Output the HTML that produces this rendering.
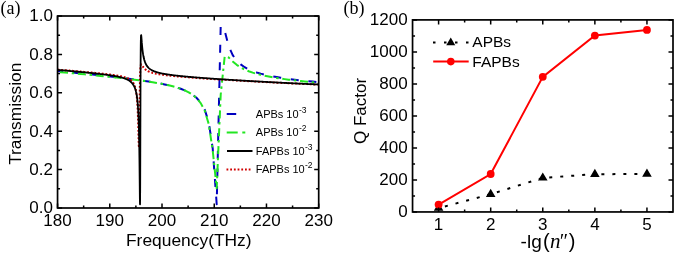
<!DOCTYPE html><html><head><meta charset="utf-8"><style>html,body{margin:0;padding:0;background:#fff;width:675px;height:254px;overflow:hidden}svg{display:block;will-change:transform}</style></head><body>
<svg width="675" height="254" viewBox="0 0 675 254">
<rect width="675" height="254" fill="#fff"/>
<defs><clipPath id="cl"><rect x="57.55" y="16" width="261.15" height="192"/></clipPath></defs>
<g clip-path="url(#cl)" fill="none" stroke-linejoin="round">
<polyline points="52.7,70.55 56.7,70.94 60.7,71.34 64.7,71.75 68.7,72.15 72.7,72.55 76.7,72.96 80.7,73.37 84.7,73.78 88.7,74.2 92.7,74.62 96.7,75.04 100.7,75.47 104.7,75.91 108.7,76.35 112.7,76.8 116.7,77.26 120.7,77.73 124.7,78.21 128.7,78.71 132.7,79.22 136.7,79.75 140.7,80.31 144.7,80.89 148.7,81.5 152.7,82.14 156.7,82.84 160.7,83.59 164.7,84.4 168.7,85.3 172.7,86.31 176.7,87.45 180.7,88.78 184.7,90.36 188.7,92.28 192.7,94.73 196.7,97.97 200.7,102.56 204.7,109.61 208.7,121.96 212.7,148.34 216.7,204.29 220.7,25.88 224.7,30.84 228.7,46.26 232.7,55.11 236.7,60.64 240.7,64.43 244.7,67.2 248.7,69.33 252.7,71.03 256.7,72.44 260.7,73.63 264.7,74.65 268.7,75.56 272.7,76.36 276.7,77.08 280.7,77.74 284.7,78.34 288.7,78.9 292.7,79.43 296.7,79.91 300.7,80.38 304.7,80.81 308.7,81.23 312.7,81.62 316.7,82 320.7,82.37" stroke="#0000c0" stroke-width="2" stroke-dasharray="8 9.7" stroke-dashoffset="-2.6"/>
<polyline points="52.7,71.42 56.7,71.77 60.7,72.13 64.7,72.5 68.7,72.86 72.7,73.23 76.7,73.6 80.7,73.97 84.7,74.35 88.7,74.73 92.7,75.12 96.7,75.51 100.7,75.9 104.7,76.31 108.7,76.72 112.7,77.14 116.7,77.57 120.7,78.01 124.7,78.47 128.7,78.94 132.7,79.42 136.7,79.93 140.7,80.46 144.7,81.01 148.7,81.6 152.7,82.23 156.7,82.9 160.7,83.63 164.7,84.43 168.7,85.32 172.7,86.31 176.7,87.46 180.7,88.79 184.7,90.39 188.7,92.36 192.7,94.89 196.7,98.28 200.7,103.12 204.7,110.66 208.7,123.84 212.7,150.31 216.7,188.3 220.7,94.62 224.7,56.43 228.7,57.48 232.7,61.45 236.7,64.83 240.7,67.47 244.7,69.55 248.7,71.24 252.7,72.64 256.7,73.83 260.7,74.85 264.7,75.75 268.7,76.56 272.7,77.28 276.7,77.94 280.7,78.55 284.7,79.12 288.7,79.65 292.7,80.14 296.7,80.61 300.7,81.06 304.7,81.49 308.7,81.9 312.7,82.29 316.7,82.67 320.7,83.03" stroke="#22e622" stroke-width="2" stroke-dasharray="8 3.7 2.5 3.7" stroke-dashoffset="-7.4"/>
<polyline points="57.55,69.56 58.07,69.6 58.59,69.65 59.12,69.69 59.64,69.74 60.16,69.79 60.68,69.83 61.21,69.88 61.73,69.92 62.25,69.97 62.77,70.01 63.3,70.06 63.82,70.1 64.34,70.15 64.86,70.19 65.38,70.24 65.91,70.28 66.43,70.33 66.95,70.37 67.47,70.42 68,70.46 68.52,70.51 69.04,70.55 69.56,70.6 70.09,70.65 70.61,70.69 71.13,70.74 71.65,70.78 72.17,70.83 72.7,70.87 73.22,70.92 73.74,70.96 74.26,71.01 74.79,71.06 75.31,71.1 75.83,71.15 76.35,71.19 76.88,71.24 77.4,71.29 77.92,71.33 78.44,71.38 78.96,71.43 79.49,71.47 80.01,71.52 80.53,71.57 81.05,71.61 81.58,71.66 82.1,71.71 82.62,71.75 83.14,71.8 83.66,71.85 84.19,71.89 84.71,71.94 85.23,71.99 85.75,72.04 86.28,72.08 86.8,72.13 87.32,72.18 87.84,72.23 88.37,72.28 88.89,72.33 89.41,72.37 89.93,72.42 90.45,72.47 90.98,72.52 91.5,72.57 92.02,72.62 92.54,72.67 93.07,72.72 93.59,72.77 94.11,72.82 94.63,72.87 95.16,72.92 95.68,72.97 96.2,73.02 96.72,73.08 97.24,73.13 97.77,73.18 98.29,73.23 98.81,73.28 99.33,73.34 99.86,73.39 100.38,73.45 100.9,73.5 101.42,73.55 101.95,73.61 102.47,73.67 102.99,73.72 103.51,73.78 104.03,73.83 104.56,73.89 105.08,73.95 105.6,74.01 106.12,74.07 106.65,74.13 107.17,74.19 107.69,74.25 108.21,74.31 108.74,74.38 109.26,74.44 109.78,74.51 110.3,74.57 110.82,74.64 111.35,74.71 111.87,74.78 112.39,74.85 112.91,74.92 113.44,74.99 113.96,75.07 114.48,75.14 115,75.22 115.53,75.3 116.05,75.38 116.57,75.47 117.09,75.55 117.61,75.64 118.14,75.73 118.66,75.83 119.18,75.92 119.7,76.02 120.23,76.13 120.75,76.23 121.27,76.34 121.79,76.46 122.32,76.58 122.84,76.71 123.36,76.84 123.88,76.98 124.4,77.13 124.93,77.29 125.45,77.45 125.97,77.63 126.49,77.82 127.02,78.02 127.54,78.24 128.06,78.47 128.58,78.73 128.79,78.83 128.82,78.85 128.84,78.86 128.87,78.88 128.9,78.89 128.92,78.9 128.95,78.92 128.97,78.93 129,78.95 129.03,78.96 129.05,78.98 129.08,78.99 129.11,79 129.13,79.02 129.16,79.03 129.18,79.05 129.21,79.06 129.24,79.08 129.26,79.09 129.29,79.11 129.31,79.12 129.34,79.14 129.37,79.15 129.39,79.17 129.42,79.19 129.44,79.2 129.47,79.22 129.5,79.23 129.52,79.25 129.55,79.26 129.58,79.28 129.6,79.3 129.63,79.31 129.65,79.33 129.68,79.34 129.71,79.36 129.73,79.38 129.76,79.39 129.78,79.41 129.81,79.43 129.84,79.44 129.86,79.46 129.89,79.48 129.91,79.5 129.94,79.51 129.97,79.53 129.99,79.55 130.02,79.56 130.05,79.58 130.07,79.6 130.1,79.62 130.12,79.63 130.15,79.65 130.18,79.67 130.2,79.69 130.23,79.71 130.25,79.73 130.28,79.74 130.31,79.76 130.33,79.78 130.36,79.8 130.38,79.82 130.41,79.84 130.44,79.86 130.46,79.88 130.49,79.89 130.52,79.91 130.54,79.93 130.57,79.95 130.59,79.97 130.62,79.99 130.65,80.01 130.67,80.03 130.7,80.05 130.72,80.07 130.75,80.09 130.78,80.11 130.8,80.13 130.83,80.16 130.85,80.18 130.88,80.2 130.91,80.22 130.93,80.24 130.96,80.26 130.99,80.28 131.01,80.3 131.04,80.33 131.06,80.35 131.09,80.37 131.12,80.39 131.14,80.41 131.17,80.44 131.19,80.46 131.22,80.48 131.25,80.51 131.27,80.53 131.3,80.55 131.32,80.58 131.35,80.6 131.38,80.62 131.4,80.65 131.43,80.67 131.46,80.69 131.48,80.72 131.51,80.74 131.53,80.77 131.56,80.79 131.59,80.82 131.61,80.84 131.64,80.87 131.66,80.89 131.69,80.92 131.72,80.95 131.74,80.97 131.77,81 131.79,81.02 131.82,81.05 131.85,81.08 131.87,81.1 131.9,81.13 131.93,81.16 131.95,81.19 131.98,81.21 132,81.24 132.03,81.27 132.06,81.3 132.08,81.33 132.11,81.36 132.13,81.38 132.16,81.41 132.19,81.44 132.21,81.47 132.24,81.5 132.27,81.53 132.29,81.56 132.32,81.59 132.34,81.62 132.37,81.65 132.4,81.69 132.42,81.72 132.45,81.75 132.47,81.78 132.5,81.81 132.53,81.85 132.55,81.88 132.58,81.91 132.6,81.94 132.63,81.98 132.66,82.01 132.68,82.05 132.71,82.08 132.74,82.11 132.76,82.15 132.79,82.18 132.81,82.22 132.84,82.26 132.87,82.29 132.89,82.33 132.92,82.36 132.94,82.4 132.97,82.44 133,82.48 133.02,82.51 133.05,82.55 133.07,82.59 133.1,82.63 133.13,82.67 133.15,82.71 133.18,82.75 133.21,82.79 133.23,82.83 133.26,82.87 133.28,82.91 133.31,82.95 133.34,82.99 133.36,83.04 133.39,83.08 133.41,83.12 133.44,83.17 133.47,83.21 133.49,83.26 133.52,83.3 133.54,83.35 133.57,83.39 133.6,83.44 133.62,83.48 133.65,83.53 133.68,83.58 133.7,83.63 133.73,83.67 133.75,83.72 133.78,83.77 133.81,83.82 133.83,83.87 133.86,83.92 133.88,83.98 133.91,84.03 133.94,84.08 133.96,84.13 133.99,84.19 134.01,84.24 134.04,84.29 134.07,84.35 134.09,84.41 134.12,84.46 134.15,84.52 134.17,84.58 134.2,84.63 134.22,84.69 134.25,84.75 134.28,84.81 134.3,84.87 134.33,84.93 134.35,85 134.38,85.06 134.41,85.12 134.43,85.19 134.46,85.25 134.48,85.32 134.51,85.38 134.54,85.45 134.56,85.52 134.59,85.59 134.62,85.66 134.64,85.73 134.67,85.8 134.69,85.87 134.72,85.94 134.75,86.02 134.77,86.09 134.8,86.17 134.82,86.24 134.85,86.32 134.88,86.4 134.9,86.48 134.93,86.56 134.95,86.64 134.98,86.72 135.01,86.81 135.03,86.89 135.06,86.98 135.09,87.06 135.11,87.15 135.14,87.24 135.16,87.33 135.19,87.42 135.22,87.51 135.24,87.61 135.27,87.7 135.29,87.8 135.32,87.9 135.35,88 135.37,88.1 135.4,88.2 135.42,88.3 135.45,88.41 135.48,88.51 135.5,88.62 135.53,88.73 135.56,88.84 135.58,88.95 135.61,89.07 135.63,89.18 135.66,89.3 135.69,89.42 135.71,89.54 135.74,89.67 135.76,89.79 135.79,89.92 135.82,90.05 135.84,90.18 135.87,90.31 135.89,90.45 135.92,90.59 135.95,90.72 135.97,90.87 136,91.01 136.03,91.16 136.05,91.31 136.08,91.46 136.1,91.61 136.13,91.77 136.16,91.93 136.18,92.09 136.21,92.26 136.23,92.43 136.26,92.6 136.29,92.77 136.31,92.95 136.34,93.13 136.37,93.31 136.39,93.5 136.42,93.69 136.44,93.88 136.47,94.08 136.5,94.28 136.52,94.49 136.55,94.7 136.57,94.91 136.6,95.13 136.63,95.35 136.65,95.58 136.68,95.81 136.7,96.04 136.73,96.28 136.76,96.53 136.78,96.78 136.81,97.03 136.84,97.29 136.86,97.56 136.89,97.83 136.91,98.11 136.94,98.39 136.97,98.68 136.99,98.98 137.02,99.28 137.04,99.59 137.07,99.91 137.1,100.23 137.12,100.56 137.15,100.9 137.17,101.25 137.2,101.6 137.23,101.96 137.25,102.33 137.28,102.71 137.31,103.1 137.33,103.5 137.36,103.91 137.38,104.32 137.41,104.75 137.44,105.19 137.46,105.64 137.49,106.1 137.51,106.57 137.54,107.06 137.57,107.55 137.59,108.06 137.62,108.58 137.64,109.12 137.67,109.67 137.7,110.23 137.72,110.81 137.75,111.4 137.78,112.01 137.8,112.63 137.83,113.27 137.85,113.92 137.88,114.6 137.91,115.29 137.93,115.99 137.96,116.72 137.98,117.46 138.01,118.22 138.04,119 138.06,119.8 138.09,120.62 138.11,121.46 138.14,122.31 138.17,123.19 138.19,124.08 138.22,124.99 138.25,125.92 138.27,126.87 138.3,127.83 138.32,128.81 138.35,129.81 138.38,130.81 138.4,131.83 138.43,132.86 138.45,133.89 138.48,134.92 138.51,135.96 138.53,136.99 138.56,138.01 138.58,139.02 138.61,140.01 138.64,140.98 138.66,141.92 138.69,142.82 138.72,143.67 138.74,144.46 138.77,145.19 138.79,145.85 138.82,146.43 138.85,146.91 138.87,147.28 138.9,147.54 138.92,147.67 138.95,147.67 138.98,147.52 139,147.22 139.03,146.76 139.05,146.12 139.08,145.32 139.11,144.35 139.13,143.2 139.16,141.88 139.19,140.4 139.21,138.76 139.24,136.97 139.26,135.04 139.29,132.99 139.32,130.83 139.34,128.58 139.37,126.24 139.39,123.85 139.42,121.42 139.45,118.96 139.47,116.49 139.5,114.03 139.52,111.59 139.55,109.18 139.58,106.82 139.6,104.51 139.63,102.26 139.66,100.08 139.68,97.98 139.71,95.96 139.73,94.02 139.76,92.16 139.79,90.39 139.81,88.7 139.84,87.1 139.86,85.59 139.89,84.15 139.92,82.8 139.94,81.52 139.97,80.31 140,79.18 140.02,78.12 140.05,77.12 140.07,76.18 140.1,75.31 140.13,74.49 140.15,73.72 140.18,73 140.2,72.33 140.23,71.71 140.26,71.13 140.28,70.58 140.31,70.08 140.33,69.61 140.36,69.17 140.39,68.76 140.41,68.38 140.44,68.03 140.47,67.71 140.49,67.41 140.52,67.13 140.54,66.87 140.57,66.63 140.6,66.41 140.62,66.2 140.65,66.02 140.67,65.85 140.7,65.69 140.73,65.54 140.75,65.41 140.78,65.29 140.8,65.18 140.83,65.08 140.86,64.99 140.88,64.91 140.91,64.83 140.94,64.77 140.96,64.71 140.99,64.66 141.01,64.61 141.04,64.57 141.07,64.54 141.09,64.51 141.12,64.49 141.14,64.47 141.17,64.45 141.2,64.44 141.22,64.44 141.25,64.43 141.27,64.43 141.3,64.44 141.33,64.44 141.35,64.45 141.38,64.46 141.41,64.48 141.43,64.49 141.46,64.51 141.48,64.53 141.51,64.55 141.54,64.57 141.56,64.6 141.59,64.63 141.61,64.65 141.64,64.68 141.67,64.71 141.69,64.74 141.72,64.78 141.74,64.81 141.77,64.84 141.8,64.88 141.82,64.91 141.85,64.95 141.88,64.98 141.9,65.02 141.93,65.06 141.95,65.1 141.98,65.14 142.01,65.18 142.03,65.21 142.06,65.25 142.08,65.29 142.11,65.33 142.14,65.37 142.16,65.42 142.19,65.46 142.21,65.5 142.24,65.54 142.27,65.58 142.29,65.62 142.32,65.66 142.35,65.7 142.37,65.74 142.4,65.79 142.42,65.83 142.45,65.87 142.48,65.91 142.5,65.95 142.53,65.99 142.55,66.03 142.58,66.07 142.61,66.11 142.63,66.15 142.66,66.2 142.68,66.24 142.71,66.28 142.74,66.32 142.76,66.36 142.79,66.4 142.82,66.44 142.84,66.48 142.87,66.52 142.89,66.55 142.92,66.59 142.95,66.63 142.97,66.67 143,66.71 143.02,66.75 143.05,66.79 143.08,66.82 143.1,66.86 143.13,66.9 143.15,66.94 143.18,66.97 143.21,67.01 143.23,67.05 143.26,67.09 143.29,67.12 143.31,67.16 143.34,67.19 143.36,67.23 143.39,67.27 143.42,67.3 143.44,67.34 143.47,67.37 143.49,67.41 143.52,67.44 143.55,67.47 143.57,67.51 143.6,67.54 143.63,67.58 143.65,67.61 143.68,67.64 143.7,67.68 143.73,67.71 143.76,67.74 143.78,67.77 143.81,67.81 143.83,67.84 143.86,67.87 143.89,67.9 143.91,67.93 143.94,67.97 143.96,68 143.99,68.03 144.02,68.06 144.04,68.09 144.07,68.12 144.1,68.15 144.12,68.18 144.15,68.21 144.17,68.24 144.2,68.27 144.23,68.3 144.25,68.33 144.28,68.36 144.3,68.39 144.33,68.41 144.36,68.44 144.38,68.47 144.41,68.5 144.43,68.53 144.46,68.55 144.49,68.58 144.51,68.61 144.54,68.64 144.57,68.66 144.59,68.69 144.62,68.72 144.64,68.74 144.67,68.77 144.7,68.8 144.72,68.82 144.75,68.85 144.77,68.87 144.8,68.9 144.83,68.92 144.85,68.95 144.88,68.97 144.9,69 144.93,69.02 144.96,69.05 144.98,69.07 145.01,69.1 145.04,69.12 145.06,69.15 145.09,69.17 145.11,69.19 145.14,69.22 145.17,69.24 145.19,69.26 145.22,69.29 145.24,69.31 145.27,69.33 145.3,69.36 145.32,69.38 145.35,69.4 145.37,69.42 145.4,69.45 145.43,69.47 145.45,69.49 145.48,69.51 145.51,69.53 145.53,69.56 145.56,69.58 145.58,69.6 145.61,69.62 145.64,69.64 145.66,69.66 145.69,69.68 145.71,69.7 145.74,69.72 145.77,69.74 145.79,69.77 145.82,69.79 145.84,69.81 145.87,69.83 145.9,69.85 145.92,69.87 145.95,69.89 145.98,69.91 146,69.92 146.03,69.94 146.05,69.96 146.08,69.98 146.11,70 146.13,70.02 146.16,70.04 146.18,70.06 146.21,70.08 146.24,70.1 146.26,70.11 146.29,70.13 146.31,70.15 146.34,70.17 146.37,70.19 146.39,70.21 146.42,70.22 146.45,70.24 146.47,70.26 146.5,70.28 146.52,70.29 146.55,70.31 146.58,70.33 146.6,70.35 146.63,70.36 146.65,70.38 146.68,70.4 146.71,70.41 146.73,70.43 146.76,70.45 146.78,70.47 146.81,70.48 146.84,70.5 146.86,70.51 146.89,70.53 146.92,70.55 146.94,70.56 146.97,70.58 146.99,70.6 147.02,70.61 147.05,70.63 147.07,70.64 147.1,70.66 147.12,70.67 147.15,70.69 147.18,70.71 147.2,70.72 147.23,70.74 147.26,70.75 147.28,70.77 147.31,70.78 147.33,70.8 147.36,70.81 147.39,70.83 147.41,70.84 147.44,70.86 147.46,70.87 147.49,70.89 147.52,70.9 147.54,70.92 147.57,70.93 147.59,70.94 147.62,70.96 147.65,70.97 147.67,70.99 147.7,71 147.73,71.02 147.75,71.03 147.78,71.04 147.8,71.06 147.83,71.07 147.86,71.08 147.88,71.1 147.91,71.11 147.93,71.13 147.96,71.14 147.99,71.15 148.01,71.17 148.04,71.18 148.06,71.19 148.09,71.21 148.12,71.22 148.14,71.23 148.17,71.24 148.2,71.26 148.22,71.27 148.25,71.28 148.27,71.3 148.3,71.31 148.33,71.32 148.35,71.33 148.38,71.35 148.4,71.36 148.43,71.37 148.46,71.38 148.48,71.4 148.51,71.41 148.53,71.42 148.56,71.43 148.59,71.45 148.61,71.46 148.64,71.47 148.67,71.48 148.69,71.49 148.72,71.51 148.74,71.52 148.77,71.53 148.8,71.54 148.82,71.55 148.85,71.56 148.87,71.58 148.9,71.59 148.93,71.6 148.95,71.61 148.98,71.62 149,71.63 149.03,71.65 149.06,71.66 149.08,71.67 149.11,71.68 149.14,71.69 149.16,71.7 149.19,71.71 149.21,71.72 149.24,71.73 149.27,71.75 149.29,71.76 149.32,71.77 149.34,71.78 149.37,71.79 149.4,71.8 149.42,71.81 149.45,71.82 149.47,71.83 149.5,71.84 149.53,71.85 149.55,71.86 149.58,71.87 149.61,71.88 149.63,71.89 149.66,71.9 149.68,71.92 150.21,72.11 150.73,72.3 151.25,72.47 151.77,72.64 152.3,72.79 152.82,72.94 153.34,73.07 153.86,73.2 154.38,73.33 154.91,73.45 155.43,73.56 155.95,73.67 156.47,73.78 157,73.88 157.52,73.97 158.04,74.07 158.56,74.16 159.09,74.25 159.61,74.33 160.13,74.41 160.65,74.5 161.17,74.57 161.7,74.65 162.22,74.72 162.74,74.8 163.26,74.87 163.79,74.94 164.31,75.01 164.83,75.07 165.35,75.14 165.88,75.2 166.4,75.26 166.92,75.33 167.44,75.39 167.96,75.45 168.49,75.5 169.01,75.56 169.53,75.62 170.05,75.68 170.58,75.73 171.1,75.79 171.62,75.84 172.14,75.89 172.66,75.94 173.19,76 173.71,76.05 174.23,76.1 174.75,76.15 175.28,76.2 175.8,76.25 176.32,76.3 176.84,76.34 177.37,76.39 177.89,76.44 178.41,76.49 178.93,76.53 179.45,76.58 179.98,76.62 180.5,76.67 181.02,76.71 181.54,76.76 182.07,76.8 182.59,76.85 183.11,76.89 183.63,76.93 184.16,76.98 184.68,77.02 185.2,77.06 185.72,77.1 186.24,77.15 186.77,77.19 187.29,77.23 187.81,77.27 188.33,77.31 188.86,77.35 189.38,77.39 189.9,77.43 190.42,77.47 190.95,77.51 191.47,77.55 191.99,77.59 192.51,77.63 193.03,77.67 193.56,77.71 194.08,77.75 194.6,77.79 195.12,77.82 195.65,77.86 196.17,77.9 196.69,77.94 197.21,77.98 197.74,78.01 198.26,78.05 198.78,78.09 199.3,78.13 199.82,78.16 200.35,78.2 200.87,78.24 201.39,78.27 201.91,78.31 202.44,78.34 202.96,78.38 203.48,78.42 204,78.45 204.53,78.49 205.05,78.52 205.57,78.56 206.09,78.59 206.61,78.63 207.14,78.67 207.66,78.7 208.18,78.74 208.7,78.77 209.23,78.8 209.75,78.84 210.27,78.87 210.79,78.91 211.32,78.94 211.84,78.98 212.36,79.01 212.88,79.04 213.4,79.08 213.93,79.11 214.45,79.15 214.97,79.18 215.49,79.21 216.02,79.25 216.54,79.28 217.06,79.31 217.58,79.35 218.11,79.38 218.63,79.41 219.15,79.44 219.67,79.48 220.19,79.51 220.72,79.54 221.24,79.58 221.76,79.61 222.28,79.64 222.81,79.67 223.33,79.7 223.85,79.74 224.37,79.77 224.89,79.8 225.42,79.83 225.94,79.86 226.46,79.9 226.98,79.93 227.51,79.96 228.03,79.99 228.55,80.02 229.07,80.05 229.6,80.09 230.12,80.12 230.64,80.15 231.16,80.18 231.68,80.21 232.21,80.24 232.73,80.27 233.25,80.3 233.77,80.33 234.3,80.36 234.82,80.39 235.34,80.43 235.86,80.46 236.39,80.49 236.91,80.52 237.43,80.55 237.95,80.58 238.47,80.61 239,80.64 239.52,80.67 240.04,80.7 240.56,80.73 241.09,80.76 241.61,80.79 242.13,80.82 242.65,80.85 243.18,80.88 243.7,80.91 244.22,80.94 244.74,80.96 245.26,80.99 245.79,81.02 246.31,81.05 246.83,81.08 247.35,81.11 247.88,81.14 248.4,81.17 248.92,81.2 249.44,81.23 249.97,81.26 250.49,81.28 251.01,81.31 251.53,81.34 252.05,81.37 252.58,81.4 253.1,81.43 253.62,81.46 254.14,81.48 254.67,81.51 255.19,81.54 255.71,81.57 256.23,81.6 256.76,81.63 257.28,81.65 257.8,81.68 258.32,81.71 258.84,81.74 259.37,81.77 259.89,81.79 260.41,81.82 260.93,81.85 261.46,81.88 261.98,81.9 262.5,81.93 263.02,81.96 263.55,81.99 264.07,82.01 264.59,82.04 265.11,82.07 265.63,82.1 266.16,82.12 266.68,82.15 267.2,82.18 267.72,82.2 268.25,82.23 268.77,82.26 269.29,82.29 269.81,82.31 270.34,82.34 270.86,82.37 271.38,82.39 271.9,82.42 272.42,82.45 272.95,82.47 273.47,82.5 273.99,82.53 274.51,82.55 275.04,82.58 275.56,82.6 276.08,82.63 276.6,82.66 277.12,82.68 277.65,82.71 278.17,82.74 278.69,82.76 279.21,82.79 279.74,82.81 280.26,82.84 280.78,82.86 281.3,82.89 281.83,82.92 282.35,82.94 282.87,82.97 283.39,82.99 283.91,83.02 284.44,83.04 284.96,83.07 285.48,83.09 286,83.12 286.53,83.15 287.05,83.17 287.57,83.2 288.09,83.22 288.62,83.25 289.14,83.27 289.66,83.3 290.18,83.32 290.7,83.35 291.23,83.37 291.75,83.4 292.27,83.42 292.79,83.45 293.32,83.47 293.84,83.49 294.36,83.52 294.88,83.54 295.41,83.57 295.93,83.59 296.45,83.62 296.97,83.64 297.49,83.67 298.02,83.69 298.54,83.71 299.06,83.74 299.58,83.76 300.11,83.79 300.63,83.81 301.15,83.83 301.67,83.86 302.2,83.88 302.72,83.91 303.24,83.93 303.76,83.95 304.28,83.98 304.81,84 305.33,84.02 305.85,84.05 306.37,84.07 306.9,84.1 307.42,84.12 307.94,84.14 308.46,84.17 308.99,84.19 309.51,84.21 310.03,84.24 310.55,84.26 311.07,84.28 311.6,84.31 312.12,84.33 312.64,84.35 313.16,84.37 313.69,84.4 314.21,84.42 314.73,84.44 315.25,84.47 315.78,84.49 316.3,84.51 316.82,84.53 317.34,84.56 317.86,84.58 318.39,84.6" stroke="#d00000" stroke-width="2" stroke-dasharray="1.8 1.9"/>
<polyline points="57.55,69.86 58.07,69.9 58.59,69.95 59.12,70 59.64,70.04 60.16,70.09 60.68,70.14 61.21,70.19 61.73,70.23 62.25,70.28 62.77,70.33 63.3,70.37 63.82,70.42 64.34,70.47 64.86,70.52 65.38,70.56 65.91,70.61 66.43,70.66 66.95,70.71 67.47,70.75 68,70.8 68.52,70.85 69.04,70.9 69.56,70.94 70.09,70.99 70.61,71.04 71.13,71.09 71.65,71.14 72.17,71.18 72.7,71.23 73.22,71.28 73.74,71.33 74.26,71.38 74.79,71.43 75.31,71.47 75.83,71.52 76.35,71.57 76.88,71.62 77.4,71.67 77.92,71.72 78.44,71.77 78.96,71.82 79.49,71.87 80.01,71.92 80.53,71.97 81.05,72.02 81.58,72.07 82.1,72.12 82.62,72.17 83.14,72.22 83.66,72.27 84.19,72.32 84.71,72.37 85.23,72.42 85.75,72.47 86.28,72.52 86.8,72.58 87.32,72.63 87.84,72.68 88.37,72.73 88.89,72.79 89.41,72.84 89.93,72.89 90.45,72.95 90.98,73 91.5,73.05 92.02,73.11 92.54,73.16 93.07,73.22 93.59,73.27 94.11,73.33 94.63,73.38 95.16,73.44 95.68,73.5 96.2,73.55 96.72,73.61 97.24,73.67 97.77,73.73 98.29,73.79 98.81,73.84 99.33,73.9 99.86,73.96 100.38,74.02 100.9,74.09 101.42,74.15 101.95,74.21 102.47,74.27 102.99,74.34 103.51,74.4 104.03,74.47 104.56,74.53 105.08,74.6 105.6,74.67 106.12,74.74 106.65,74.8 107.17,74.88 107.69,74.95 108.21,75.02 108.74,75.09 109.26,75.17 109.78,75.24 110.3,75.32 110.82,75.4 111.35,75.48 111.87,75.56 112.39,75.64 112.91,75.73 113.44,75.82 113.96,75.9 114.48,75.99 115,76.09 115.53,76.18 116.05,76.28 116.57,76.38 117.09,76.48 117.61,76.59 118.14,76.7 118.66,76.81 119.18,76.93 119.7,77.05 120.23,77.18 120.75,77.31 121.27,77.44 121.79,77.58 122.32,77.73 122.84,77.88 123.36,78.05 123.88,78.21 124.4,78.39 124.93,78.58 125.45,78.78 125.97,78.99 126.49,79.21 127.02,79.45 127.54,79.71 128.06,79.98 128.58,80.28 129.11,80.6 129.63,80.95 130.15,81.33 130.67,81.75 131.19,82.22 131.72,82.74 132.24,83.32 132.44,83.56 132.45,83.57 132.46,83.59 132.47,83.6 132.48,83.61 132.49,83.63 132.5,83.64 132.51,83.65 132.52,83.67 132.53,83.68 132.54,83.69 132.55,83.71 132.56,83.72 132.57,83.73 132.58,83.75 132.59,83.76 132.6,83.77 132.61,83.79 132.62,83.8 132.63,83.82 132.64,83.83 132.66,83.84 132.67,83.86 132.68,83.87 132.69,83.88 132.7,83.9 132.71,83.91 132.72,83.93 132.73,83.94 132.74,83.95 132.75,83.97 132.76,83.98 132.77,84 132.78,84.01 132.79,84.02 132.8,84.04 132.81,84.05 132.82,84.07 132.83,84.08 132.84,84.1 132.85,84.11 132.86,84.13 132.87,84.14 132.88,84.15 132.9,84.17 132.91,84.18 132.92,84.2 132.93,84.21 132.94,84.23 132.95,84.24 132.96,84.26 132.97,84.27 132.98,84.29 132.99,84.3 133,84.32 133.01,84.33 133.02,84.35 133.03,84.36 133.04,84.38 133.05,84.39 133.06,84.41 133.07,84.42 133.08,84.44 133.09,84.46 133.1,84.47 133.11,84.49 133.13,84.5 133.14,84.52 133.15,84.53 133.16,84.55 133.17,84.56 133.18,84.58 133.19,84.6 133.2,84.61 133.21,84.63 133.22,84.64 133.23,84.66 133.24,84.68 133.25,84.69 133.26,84.71 133.27,84.72 133.28,84.74 133.29,84.76 133.3,84.77 133.31,84.79 133.32,84.81 133.33,84.82 133.34,84.84 133.36,84.86 133.37,84.87 133.38,84.89 133.39,84.91 133.4,84.92 133.41,84.94 133.42,84.96 133.43,84.97 133.44,84.99 133.45,85.01 133.46,85.02 133.47,85.04 133.48,85.06 133.49,85.08 133.5,85.09 133.51,85.11 133.52,85.13 133.53,85.15 133.54,85.16 133.55,85.18 133.56,85.2 133.57,85.22 133.58,85.23 133.6,85.25 133.61,85.27 133.62,85.29 133.63,85.31 133.64,85.32 133.65,85.34 133.66,85.36 133.67,85.38 133.68,85.4 133.69,85.41 133.7,85.43 133.71,85.45 133.72,85.47 133.73,85.49 133.74,85.51 133.75,85.53 133.76,85.54 133.77,85.56 133.78,85.58 133.79,85.6 133.8,85.62 133.81,85.64 133.83,85.66 133.84,85.68 133.85,85.7 133.86,85.71 133.87,85.73 133.88,85.75 133.89,85.77 133.9,85.79 133.91,85.81 133.92,85.83 133.93,85.85 133.94,85.87 133.95,85.89 133.96,85.91 133.97,85.93 133.98,85.95 133.99,85.97 134,85.99 134.01,86.01 134.02,86.03 134.03,86.05 134.04,86.07 134.05,86.09 134.07,86.11 134.08,86.13 134.09,86.15 134.1,86.18 134.11,86.2 134.12,86.22 134.13,86.24 134.14,86.26 134.15,86.28 134.16,86.3 134.17,86.32 134.18,86.34 134.19,86.37 134.2,86.39 134.21,86.41 134.22,86.43 134.23,86.45 134.24,86.47 134.25,86.5 134.26,86.52 134.27,86.54 134.28,86.56 134.3,86.58 134.31,86.61 134.32,86.63 134.33,86.65 134.34,86.67 134.35,86.7 134.36,86.72 134.37,86.74 134.38,86.76 134.39,86.79 134.4,86.81 134.41,86.83 134.42,86.86 134.43,86.88 134.44,86.9 134.45,86.92 134.46,86.95 134.47,86.97 134.48,87 134.49,87.02 134.5,87.04 134.51,87.07 134.52,87.09 134.54,87.11 134.55,87.14 134.56,87.16 134.57,87.19 134.58,87.21 134.59,87.24 134.6,87.26 134.61,87.29 134.62,87.31 134.63,87.33 134.64,87.36 134.65,87.38 134.66,87.41 134.67,87.44 134.68,87.46 134.69,87.49 134.7,87.51 134.71,87.54 134.72,87.56 134.73,87.59 134.74,87.61 134.75,87.64 134.77,87.67 134.78,87.69 134.79,87.72 134.8,87.74 134.81,87.77 134.82,87.8 134.83,87.82 134.84,87.85 134.85,87.88 134.86,87.91 134.87,87.93 134.88,87.96 134.89,87.99 134.9,88.01 134.91,88.04 134.92,88.07 134.93,88.1 134.94,88.12 134.95,88.15 134.96,88.18 134.97,88.21 134.98,88.24 135,88.27 135.01,88.29 135.02,88.32 135.03,88.35 135.04,88.38 135.05,88.41 135.06,88.44 135.07,88.47 135.08,88.5 135.09,88.53 135.1,88.56 135.11,88.59 135.12,88.62 135.13,88.65 135.14,88.68 135.15,88.71 135.16,88.74 135.17,88.77 135.18,88.8 135.19,88.83 135.2,88.86 135.21,88.89 135.22,88.92 135.24,88.95 135.25,88.98 135.26,89.01 135.27,89.05 135.28,89.08 135.29,89.11 135.3,89.14 135.31,89.17 135.32,89.2 135.33,89.24 135.34,89.27 135.35,89.3 135.36,89.34 135.37,89.37 135.38,89.4 135.39,89.43 135.4,89.47 135.41,89.5 135.42,89.53 135.43,89.57 135.44,89.6 135.45,89.64 135.47,89.67 135.48,89.71 135.49,89.74 135.5,89.77 135.51,89.81 135.52,89.84 135.53,89.88 135.54,89.91 135.55,89.95 135.56,89.99 135.57,90.02 135.58,90.06 135.59,90.09 135.6,90.13 135.61,90.17 135.62,90.2 135.63,90.24 135.64,90.28 135.65,90.31 135.66,90.35 135.67,90.39 135.68,90.43 135.69,90.46 135.71,90.5 135.72,90.54 135.73,90.58 135.74,90.62 135.75,90.65 135.76,90.69 135.77,90.73 135.78,90.77 135.79,90.81 135.8,90.85 135.81,90.89 135.82,90.93 135.83,90.97 135.84,91.01 135.85,91.05 135.86,91.09 135.87,91.13 135.88,91.17 135.89,91.22 135.9,91.26 135.91,91.3 135.92,91.34 135.94,91.38 135.95,91.42 135.96,91.47 135.97,91.51 135.98,91.55 135.99,91.6 136,91.64 136.01,91.68 136.02,91.73 136.03,91.77 136.04,91.81 136.05,91.86 136.06,91.9 136.07,91.95 136.08,91.99 136.09,92.04 136.1,92.08 136.11,92.13 136.12,92.18 136.13,92.22 136.14,92.27 136.15,92.32 136.16,92.36 136.18,92.41 136.19,92.46 136.2,92.51 136.21,92.55 136.22,92.6 136.23,92.65 136.24,92.7 136.25,92.75 136.26,92.8 136.27,92.85 136.28,92.9 136.29,92.95 136.3,93 136.31,93.05 136.32,93.1 136.33,93.15 136.34,93.2 136.35,93.25 136.36,93.3 136.37,93.36 136.38,93.41 136.39,93.46 136.41,93.51 136.42,93.57 136.43,93.62 136.44,93.68 136.45,93.73 136.46,93.78 136.47,93.84 136.48,93.89 136.49,93.95 136.5,94.01 136.51,94.06 136.52,94.12 136.53,94.17 136.54,94.23 136.55,94.29 136.56,94.35 136.57,94.4 136.58,94.46 136.59,94.52 136.6,94.58 136.61,94.64 136.62,94.7 136.64,94.76 136.65,94.82 136.66,94.88 136.67,94.94 136.68,95 136.69,95.07 136.7,95.13 136.71,95.19 136.72,95.25 136.73,95.32 136.74,95.38 136.75,95.44 136.76,95.51 136.77,95.57 136.78,95.64 136.79,95.7 136.8,95.77 136.81,95.84 136.82,95.9 136.83,95.97 136.84,96.04 136.85,96.11 136.86,96.17 136.88,96.24 136.89,96.31 136.9,96.38 136.91,96.45 136.92,96.52 136.93,96.59 136.94,96.67 136.95,96.74 136.96,96.81 136.97,96.88 136.98,96.96 136.99,97.03 137,97.11 137.01,97.18 137.02,97.26 137.03,97.33 137.04,97.41 137.05,97.48 137.06,97.56 137.07,97.64 137.08,97.72 137.09,97.8 137.11,97.88 137.12,97.96 137.13,98.04 137.14,98.12 137.15,98.2 137.16,98.28 137.17,98.36 137.18,98.45 137.19,98.53 137.2,98.62 137.21,98.7 137.22,98.79 137.23,98.87 137.24,98.96 137.25,99.05 137.26,99.13 137.27,99.22 137.28,99.31 137.29,99.4 137.3,99.49 137.31,99.58 137.32,99.67 137.33,99.77 137.35,99.86 137.36,99.95 137.37,100.05 137.38,100.14 137.39,100.24 137.4,100.33 137.41,100.43 137.42,100.53 137.43,100.63 137.44,100.73 137.45,100.83 137.46,100.93 137.47,101.03 137.48,101.13 137.49,101.24 137.5,101.34 137.51,101.44 137.52,101.55 137.53,101.66 137.54,101.76 137.55,101.87 137.56,101.98 137.58,102.09 137.59,102.2 137.6,102.31 137.61,102.42 137.62,102.54 137.63,102.65 137.64,102.76 137.65,102.88 137.66,103 137.67,103.11 137.68,103.23 137.69,103.35 137.7,103.47 137.71,103.59 137.72,103.72 137.73,103.84 137.74,103.96 137.75,104.09 137.76,104.22 137.77,104.34 137.78,104.47 137.79,104.6 137.8,104.73 137.82,104.86 137.83,105 137.84,105.13 137.85,105.27 137.86,105.4 137.87,105.54 137.88,105.68 137.89,105.82 137.9,105.96 137.91,106.1 137.92,106.25 137.93,106.39 137.94,106.54 137.95,106.69 137.96,106.84 137.97,106.99 137.98,107.14 137.99,107.29 138,107.44 138.01,107.6 138.02,107.76 138.03,107.92 138.05,108.08 138.06,108.24 138.07,108.4 138.08,108.56 138.09,108.73 138.1,108.9 138.11,109.07 138.12,109.24 138.13,109.41 138.14,109.59 138.15,109.76 138.16,109.94 138.17,110.12 138.18,110.3 138.19,110.48 138.2,110.67 138.21,110.85 138.22,111.04 138.23,111.23 138.24,111.42 138.25,111.62 138.26,111.81 138.28,112.01 138.29,112.21 138.3,112.41 138.31,112.61 138.32,112.82 138.33,113.03 138.34,113.24 138.35,113.45 138.36,113.67 138.37,113.88 138.38,114.1 138.39,114.32 138.4,114.55 138.41,114.77 138.42,115 138.43,115.23 138.44,115.47 138.45,115.7 138.46,115.94 138.47,116.18 138.48,116.43 138.49,116.67 138.5,116.92 138.52,117.18 138.53,117.43 138.54,117.69 138.55,117.95 138.56,118.21 138.57,118.48 138.58,118.75 138.59,119.02 138.6,119.3 138.61,119.58 138.62,119.86 138.63,120.15 138.64,120.44 138.65,120.73 138.66,121.03 138.67,121.33 138.68,121.63 138.69,121.94 138.7,122.25 138.71,122.56 138.72,122.88 138.73,123.2 138.75,123.53 138.76,123.86 138.77,124.19 138.78,124.53 138.79,124.87 138.8,125.22 138.81,125.57 138.82,125.93 138.83,126.29 138.84,126.65 138.85,127.02 138.86,127.4 138.87,127.78 138.88,128.16 138.89,128.55 138.9,128.95 138.91,129.35 138.92,129.75 138.93,130.16 138.94,130.58 138.95,131 138.96,131.43 138.97,131.86 138.99,132.3 139,132.74 139.01,133.19 139.02,133.65 139.03,134.11 139.04,134.58 139.05,135.06 139.06,135.54 139.07,136.03 139.08,136.53 139.09,137.03 139.1,137.54 139.11,138.06 139.12,138.58 139.13,139.11 139.14,139.65 139.15,140.2 139.16,140.76 139.17,141.32 139.18,141.89 139.19,142.47 139.2,143.06 139.22,143.65 139.23,144.26 139.24,144.87 139.25,145.5 139.26,146.13 139.27,146.77 139.28,147.42 139.29,148.08 139.3,148.74 139.31,149.42 139.32,150.11 139.33,150.81 139.34,151.51 139.35,152.23 139.36,152.96 139.37,153.7 139.38,154.45 139.39,155.21 139.4,155.98 139.41,156.76 139.42,157.55 139.43,158.35 139.45,159.16 139.46,159.99 139.47,160.82 139.48,161.67 139.49,162.52 139.5,163.39 139.51,164.27 139.52,165.16 139.53,166.05 139.54,166.96 139.55,167.88 139.56,168.82 139.57,169.76 139.58,170.71 139.59,171.67 139.6,172.63 139.61,173.61 139.62,174.6 139.63,175.59 139.64,176.59 139.65,177.6 139.66,178.61 139.67,179.63 139.69,180.66 139.7,181.68 139.71,182.71 139.72,183.75 139.73,184.78 139.74,185.81 139.75,186.84 139.76,187.86 139.77,188.88 139.78,189.89 139.79,190.89 139.8,191.88 139.81,192.85 139.82,193.81 139.83,194.75 139.84,195.67 139.85,196.56 139.86,197.43 139.87,198.26 139.88,199.06 139.89,199.82 139.9,200.53 139.92,201.2 139.93,201.82 139.94,202.38 139.95,202.89 139.96,203.32 139.97,203.69 139.98,203.97 139.99,204.18 140,204.3 140.01,204.33 140.02,204.26 140.03,204.09 140.04,203.81 140.05,203.42 140.06,202.91 140.07,202.27 140.08,201.51 140.09,200.62 140.1,199.59 140.11,198.42 140.12,197.11 140.13,195.65 140.14,194.06 140.16,192.31 140.17,190.43 140.18,188.39 140.19,186.22 140.2,183.91 140.21,181.46 140.22,178.88 140.23,176.17 140.24,173.35 140.25,170.41 140.26,167.37 140.27,164.23 140.28,161 140.29,157.7 140.3,154.33 140.31,150.9 140.32,147.43 140.33,143.92 140.34,140.38 140.35,136.83 140.36,133.28 140.37,129.73 140.39,126.19 140.4,122.68 140.41,119.21 140.42,115.77 140.43,112.38 140.44,109.05 140.45,105.78 140.46,102.58 140.47,99.45 140.48,96.4 140.49,93.43 140.5,90.55 140.51,87.75 140.52,85.04 140.53,82.42 140.54,79.89 140.55,77.45 140.56,75.11 140.57,72.85 140.58,70.69 140.59,68.61 140.6,66.63 140.61,64.73 140.63,62.91 140.64,61.18 140.65,59.52 140.66,57.95 140.67,56.46 140.68,55.03 140.69,53.68 140.7,52.4 140.71,51.19 140.72,50.04 140.73,48.95 140.74,47.93 140.75,46.96 140.76,46.04 140.77,45.18 140.78,44.37 140.79,43.61 140.8,42.89 140.81,42.22 140.82,41.59 140.83,41.01 140.84,40.46 140.86,39.94 140.87,39.47 140.88,39.02 140.89,38.61 140.9,38.23 140.91,37.87 140.92,37.54 140.93,37.24 140.94,36.97 140.95,36.72 140.96,36.49 140.97,36.28 140.98,36.09 140.99,35.92 141,35.77 141.01,35.63 141.02,35.51 141.03,35.41 141.04,35.32 141.05,35.25 141.06,35.19 141.07,35.14 141.09,35.1 141.1,35.07 141.11,35.06 141.12,35.05 141.13,35.06 141.14,35.07 141.15,35.09 141.16,35.12 141.17,35.16 141.18,35.2 141.19,35.25 141.2,35.3 141.21,35.37 141.22,35.43 141.23,35.51 141.24,35.59 141.25,35.67 141.26,35.76 141.27,35.85 141.28,35.94 141.29,36.04 141.3,36.14 141.31,36.25 141.33,36.35 141.34,36.47 141.35,36.58 141.36,36.69 141.37,36.81 141.38,36.93 141.39,37.05 141.4,37.18 141.41,37.3 141.42,37.43 141.43,37.56 141.44,37.69 141.45,37.82 141.46,37.95 141.47,38.08 141.48,38.22 141.49,38.35 141.5,38.49 141.51,38.62 141.52,38.76 141.53,38.89 141.54,39.03 141.56,39.17 141.57,39.31 141.58,39.44 141.59,39.58 141.6,39.72 141.61,39.86 141.62,40 141.63,40.14 141.64,40.27 141.65,40.41 141.66,40.55 141.67,40.69 141.68,40.82 141.69,40.96 141.7,41.1 141.71,41.24 141.72,41.37 141.73,41.51 141.74,41.64 141.75,41.78 141.76,41.91 141.77,42.05 141.78,42.18 141.8,42.32 141.81,42.45 141.82,42.58 141.83,42.71 141.84,42.84 141.85,42.97 141.86,43.1 141.87,43.23 141.88,43.36 141.89,43.49 141.9,43.62 141.91,43.75 141.92,43.87 141.93,44 141.94,44.13 141.95,44.25 141.96,44.37 141.97,44.5 141.98,44.62 141.99,44.74 142,44.86 142.01,44.99 142.03,45.11 142.04,45.23 142.05,45.34 142.06,45.46 142.07,45.58 142.08,45.7 142.09,45.81 142.1,45.93 142.11,46.04 142.12,46.16 142.13,46.27 142.14,46.39 142.15,46.5 142.16,46.61 142.17,46.72 142.18,46.83 142.19,46.94 142.2,47.05 142.21,47.16 142.22,47.27 142.23,47.37 142.24,47.48 142.25,47.59 142.27,47.69 142.28,47.8 142.29,47.9 142.3,48 142.31,48.11 142.32,48.21 142.33,48.31 142.34,48.41 142.35,48.51 142.36,48.61 142.37,48.71 142.38,48.81 142.39,48.9 142.4,49 142.41,49.1 142.42,49.19 142.43,49.29 142.44,49.38 142.45,49.48 142.46,49.57 142.47,49.67 142.48,49.76 142.5,49.85 142.51,49.94 142.52,50.03 142.53,50.12 142.54,50.21 142.55,50.3 142.56,50.39 142.57,50.48 142.58,50.57 142.59,50.65 142.6,50.74 142.61,50.83 142.62,50.91 142.63,51 142.64,51.08 142.65,51.16 142.66,51.25 142.67,51.33 142.68,51.41 142.69,51.5 142.7,51.58 142.71,51.66 142.73,51.74 142.74,51.82 142.75,51.9 142.76,51.98 142.77,52.05 142.78,52.13 142.79,52.21 142.8,52.29 142.81,52.36 142.82,52.44 142.83,52.52 142.84,52.59 142.85,52.67 142.86,52.74 142.87,52.81 142.88,52.89 142.89,52.96 142.9,53.03 142.91,53.11 142.92,53.18 142.93,53.25 142.94,53.32 142.95,53.39 142.97,53.46 142.98,53.53 142.99,53.6 143,53.67 143.01,53.74 143.02,53.81 143.03,53.87 143.04,53.94 143.05,54.01 143.06,54.08 143.07,54.14 143.08,54.21 143.09,54.27 143.1,54.34 143.11,54.4 143.12,54.47 143.13,54.53 143.14,54.6 143.15,54.66 143.16,54.72 143.17,54.78 143.18,54.85 143.2,54.91 143.21,54.97 143.22,55.03 143.23,55.09 143.24,55.15 143.25,55.21 143.26,55.27 143.27,55.33 143.28,55.39 143.29,55.45 143.3,55.51 143.31,55.57 143.32,55.63 143.33,55.68 143.34,55.74 143.35,55.8 143.36,55.86 143.37,55.91 143.38,55.97 143.39,56.02 143.4,56.08 143.41,56.13 143.42,56.19 143.44,56.24 143.45,56.3 143.46,56.35 143.47,56.41 143.48,56.46 143.49,56.51 143.5,56.57 143.51,56.62 143.52,56.67 143.53,56.72 143.54,56.78 143.55,56.83 143.56,56.88 143.57,56.93 143.58,56.98 143.59,57.03 143.6,57.08 143.61,57.13 143.62,57.18 143.63,57.23 143.64,57.28 143.65,57.33 143.67,57.38 143.68,57.43 143.69,57.47 143.7,57.52 143.71,57.57 143.72,57.62 143.73,57.67 143.74,57.71 143.75,57.76 143.76,57.81 143.77,57.85 143.78,57.9 143.79,57.94 143.8,57.99 143.81,58.04 143.82,58.08 143.83,58.13 143.84,58.17 143.85,58.22 143.86,58.26 143.87,58.3 143.88,58.35 143.9,58.39 143.91,58.44 143.92,58.48 143.93,58.52 143.94,58.57 143.95,58.61 143.96,58.65 143.97,58.69 143.98,58.74 143.99,58.78 144,58.82 144.01,58.86 144.02,58.9 144.03,58.94 144.04,58.98 144.05,59.02 144.06,59.07 144.07,59.11 144.08,59.15 144.09,59.19 144.1,59.23 144.11,59.27 144.12,59.3 144.14,59.34 144.15,59.38 144.16,59.42 144.17,59.46 144.18,59.5 144.19,59.54 144.2,59.58 144.21,59.61 144.22,59.65 144.23,59.69 144.24,59.73 144.25,59.77 144.26,59.8 144.27,59.84 144.28,59.88 144.29,59.91 144.3,59.95 144.31,59.99 144.32,60.02 144.33,60.06 144.34,60.09 144.35,60.13 144.37,60.17 144.38,60.2 144.39,60.24 144.4,60.27 144.41,60.31 144.42,60.34 144.43,60.38 144.44,60.41 144.45,60.45 144.46,60.48 144.47,60.51 144.48,60.55 144.49,60.58 144.5,60.61 144.51,60.65 144.52,60.68 144.53,60.72 144.54,60.75 144.55,60.78 144.56,60.81 144.57,60.85 144.58,60.88 144.59,60.91 144.61,60.94 144.62,60.98 144.63,61.01 144.64,61.04 144.65,61.07 144.66,61.1 144.67,61.13 144.68,61.17 144.69,61.2 144.7,61.23 144.71,61.26 144.72,61.29 144.73,61.32 144.74,61.35 144.75,61.38 144.76,61.41 144.77,61.44 144.78,61.47 144.79,61.5 144.8,61.53 144.81,61.56 144.82,61.59 144.84,61.62 144.85,61.65 144.86,61.68 144.87,61.71 144.88,61.74 144.89,61.77 144.9,61.8 144.91,61.82 144.92,61.85 144.93,61.88 144.94,61.91 144.95,61.94 144.96,61.97 144.97,61.99 144.98,62.02 144.99,62.05 145,62.08 145.01,62.11 145.02,62.13 145.03,62.16 145.04,62.19 145.05,62.22 145.06,62.24 145.08,62.27 145.09,62.3 145.1,62.32 145.11,62.35 145.12,62.38 145.13,62.4 145.14,62.43 145.15,62.46 145.16,62.48 145.17,62.51 145.18,62.53 145.19,62.56 145.2,62.59 145.21,62.61 145.22,62.64 145.23,62.66 145.24,62.69 145.25,62.71 145.26,62.74 145.27,62.76 145.28,62.79 145.29,62.81 145.31,62.84 145.32,62.86 145.33,62.89 145.34,62.91 145.35,62.94 145.36,62.96 145.37,62.99 145.38,63.01 145.39,63.03 145.4,63.06 145.41,63.08 145.42,63.11 145.43,63.13 145.44,63.15 145.45,63.18 145.46,63.2 145.47,63.22 145.48,63.25 145.49,63.27 145.5,63.29 145.51,63.32 145.52,63.34 145.54,63.36 145.55,63.39 145.56,63.41 145.57,63.43 145.58,63.45 145.59,63.48 145.6,63.5 145.61,63.52 145.62,63.54 145.63,63.57 145.64,63.59 145.65,63.61 145.66,63.63 145.67,63.65 145.68,63.68 145.69,63.7 145.7,63.72 145.71,63.74 145.72,63.76 145.73,63.78 145.74,63.81 145.75,63.83 145.76,63.85 145.78,63.87 145.79,63.89 145.8,63.91 145.81,63.93 145.82,63.95 145.83,63.97 145.84,64 145.85,64.02 145.86,64.04 145.87,64.06 145.88,64.08 145.89,64.1 145.9,64.12 145.91,64.14 145.92,64.16 145.93,64.18 145.94,64.2 145.95,64.22 145.96,64.24 145.97,64.26 145.98,64.28 145.99,64.3 146.01,64.32 146.02,64.34 146.03,64.36 146.04,64.38 146.05,64.4 146.06,64.42 146.07,64.44 146.08,64.46 146.09,64.47 146.1,64.49 146.11,64.51 146.12,64.53 146.13,64.55 146.14,64.57 146.15,64.59 146.16,64.61 146.17,64.63 146.18,64.65 146.19,64.66 146.2,64.68 146.21,64.7 146.22,64.72 146.23,64.74 146.25,64.76 146.26,64.77 146.27,64.79 146.28,64.81 146.29,64.83 146.3,64.85 146.31,64.86 146.32,64.88 146.33,64.9 146.34,64.92 146.35,64.94 146.36,64.95 146.37,64.97 146.38,64.99 146.39,65.01 146.4,65.02 146.41,65.04 146.42,65.06 146.43,65.08 146.44,65.09 146.45,65.11 146.46,65.13 146.48,65.15 146.49,65.16 146.5,65.18 146.51,65.2 146.52,65.21 146.53,65.23 146.54,65.25 146.55,65.26 146.56,65.28 146.57,65.3 146.58,65.31 146.59,65.33 146.6,65.35 146.61,65.36 146.62,65.38 146.63,65.4 146.64,65.41 146.65,65.43 146.66,65.45 146.67,65.46 146.68,65.48 146.69,65.49 146.7,65.51 146.72,65.53 146.73,65.54 146.74,65.56 146.75,65.57 146.76,65.59 146.77,65.61 146.78,65.62 146.79,65.64 146.8,65.65 146.81,65.67 146.82,65.68 146.83,65.7 146.84,65.71 146.85,65.73 146.86,65.75 146.87,65.76 146.88,65.78 146.89,65.79 146.9,65.81 146.91,65.82 146.92,65.84 146.93,65.85 146.95,65.87 146.96,65.88 146.97,65.9 146.98,65.91 146.99,65.93 147,65.94 147.01,65.96 147.02,65.97 147.03,65.99 147.04,66 147.05,66.02 147.06,66.03 147.07,66.04 147.08,66.06 147.09,66.07 147.1,66.09 147.11,66.1 147.12,66.12 147.13,66.13 147.14,66.15 147.15,66.16 147.16,66.17 147.18,66.19 147.19,66.2 147.2,66.22 147.21,66.23 147.22,66.24 147.23,66.26 147.24,66.27 147.25,66.29 147.26,66.3 147.27,66.31 147.28,66.33 147.29,66.34 147.3,66.36 147.31,66.37 147.32,66.38 147.33,66.4 147.34,66.41 147.35,66.42 147.36,66.44 147.37,66.45 147.38,66.46 147.39,66.48 147.4,66.49 147.42,66.5 147.43,66.52 147.44,66.53 147.45,66.54 147.46,66.56 147.47,66.57 147.48,66.58 147.49,66.6 147.5,66.61 147.51,66.62 147.52,66.63 147.53,66.65 147.54,66.66 147.55,66.67 147.56,66.69 147.57,66.7 147.58,66.71 147.59,66.72 147.6,66.74 147.61,66.75 147.62,66.76 147.63,66.78 147.65,66.79 147.66,66.8 147.67,66.81 147.68,66.83 147.69,66.84 147.7,66.85 147.71,66.86 147.72,66.88 147.73,66.89 147.74,66.9 147.75,66.91 147.76,66.92 147.77,66.94 147.78,66.95 147.79,66.96 147.8,66.97 147.81,66.99 147.82,67 147.83,67.01 147.84,67.02 147.85,67.03 147.86,67.05 147.87,67.06 147.89,67.07 147.9,67.08 147.91,67.09 147.92,67.1 147.93,67.12 147.94,67.13 147.95,67.14 147.96,67.15 147.97,67.16 147.98,67.17 147.99,67.19 148,67.2 148.01,67.21 148.02,67.22 148.03,67.23 148.04,67.24 148.05,67.26 148.06,67.27 148.07,67.28 148.08,67.29 148.09,67.3 148.1,67.31 148.63,67.85 149.15,68.32 149.67,68.75 150.19,69.14 150.72,69.5 151.24,69.82 151.76,70.12 152.28,70.4 152.81,70.66 153.33,70.9 153.85,71.13 154.37,71.34 154.89,71.54 155.42,71.72 155.94,71.9 156.46,72.07 156.98,72.23 157.51,72.38 158.03,72.53 158.55,72.67 159.07,72.8 159.6,72.93 160.12,73.06 160.64,73.17 161.16,73.29 161.68,73.4 162.21,73.51 162.73,73.61 163.25,73.71 163.77,73.81 164.3,73.9 164.82,74 165.34,74.09 165.86,74.17 166.39,74.26 166.91,74.34 167.43,74.42 167.95,74.5 168.47,74.58 169,74.66 169.52,74.73 170.04,74.8 170.56,74.88 171.09,74.95 171.61,75.01 172.13,75.08 172.65,75.15 173.18,75.21 173.7,75.28 174.22,75.34 174.74,75.41 175.26,75.47 175.79,75.53 176.31,75.59 176.83,75.65 177.35,75.7 177.88,75.76 178.4,75.82 178.92,75.88 179.44,75.93 179.97,75.99 180.49,76.04 181.01,76.09 181.53,76.15 182.05,76.2 182.58,76.25 183.1,76.3 183.62,76.35 184.14,76.4 184.67,76.45 185.19,76.5 185.71,76.55 186.23,76.6 186.75,76.65 187.28,76.7 187.8,76.74 188.32,76.79 188.84,76.84 189.37,76.88 189.89,76.93 190.41,76.98 190.93,77.02 191.46,77.07 191.98,77.11 192.5,77.16 193.02,77.2 193.54,77.24 194.07,77.29 194.59,77.33 195.11,77.37 195.63,77.42 196.16,77.46 196.68,77.5 197.2,77.54 197.72,77.58 198.25,77.63 198.77,77.67 199.29,77.71 199.81,77.75 200.33,77.79 200.86,77.83 201.38,77.87 201.9,77.91 202.42,77.95 202.95,77.99 203.47,78.03 203.99,78.07 204.51,78.11 205.04,78.15 205.56,78.18 206.08,78.22 206.6,78.26 207.12,78.3 207.65,78.34 208.17,78.38 208.69,78.41 209.21,78.45 209.74,78.49 210.26,78.53 210.78,78.56 211.3,78.6 211.83,78.64 212.35,78.67 212.87,78.71 213.39,78.75 213.91,78.78 214.44,78.82 214.96,78.85 215.48,78.89 216,78.93 216.53,78.96 217.05,79 217.57,79.03 218.09,79.07 218.62,79.1 219.14,79.14 219.66,79.17 220.18,79.21 220.7,79.24 221.23,79.28 221.75,79.31 222.27,79.35 222.79,79.38 223.32,79.41 223.84,79.45 224.36,79.48 224.88,79.52 225.41,79.55 225.93,79.58 226.45,79.62 226.97,79.65 227.49,79.68 228.02,79.72 228.54,79.75 229.06,79.78 229.58,79.82 230.11,79.85 230.63,79.88 231.15,79.91 231.67,79.95 232.2,79.98 232.72,80.01 233.24,80.05 233.76,80.08 234.28,80.11 234.81,80.14 235.33,80.17 235.85,80.21 236.37,80.24 236.9,80.27 237.42,80.3 237.94,80.33 238.46,80.36 238.98,80.4 239.51,80.43 240.03,80.46 240.55,80.49 241.07,80.52 241.6,80.55 242.12,80.58 242.64,80.61 243.16,80.64 243.69,80.68 244.21,80.71 244.73,80.74 245.25,80.77 245.77,80.8 246.3,80.83 246.82,80.86 247.34,80.89 247.86,80.92 248.39,80.95 248.91,80.98 249.43,81.01 249.95,81.04 250.48,81.07 251,81.1 251.52,81.13 252.04,81.16 252.56,81.19 253.09,81.22 253.61,81.25 254.13,81.28 254.65,81.31 255.18,81.34 255.7,81.36 256.22,81.39 256.74,81.42 257.27,81.45 257.79,81.48 258.31,81.51 258.83,81.54 259.35,81.57 259.88,81.6 260.4,81.63 260.92,81.65 261.44,81.68 261.97,81.71 262.49,81.74 263.01,81.77 263.53,81.8 264.06,81.82 264.58,81.85 265.1,81.88 265.62,81.91 266.14,81.94 266.67,81.96 267.19,81.99 267.71,82.02 268.23,82.05 268.76,82.08 269.28,82.1 269.8,82.13 270.32,82.16 270.85,82.19 271.37,82.21 271.89,82.24 272.41,82.27 272.93,82.3 273.46,82.32 273.98,82.35 274.5,82.38 275.02,82.4 275.55,82.43 276.07,82.46 276.59,82.49 277.11,82.51 277.64,82.54 278.16,82.57 278.68,82.59 279.2,82.62 279.72,82.65 280.25,82.67 280.77,82.7 281.29,82.72 281.81,82.75 282.34,82.78 282.86,82.8 283.38,82.83 283.9,82.86 284.43,82.88 284.95,82.91 285.47,82.93 285.99,82.96 286.51,82.99 287.04,83.01 287.56,83.04 288.08,83.06 288.6,83.09 289.13,83.11 289.65,83.14 290.17,83.17 290.69,83.19 291.21,83.22 291.74,83.24 292.26,83.27 292.78,83.29 293.3,83.32 293.83,83.34 294.35,83.37 294.87,83.39 295.39,83.42 295.92,83.44 296.44,83.47 296.96,83.49 297.48,83.52 298,83.54 298.53,83.57 299.05,83.59 299.57,83.62 300.09,83.64 300.62,83.67 301.14,83.69 301.66,83.72 302.18,83.74 302.71,83.76 303.23,83.79 303.75,83.81 304.27,83.84 304.79,83.86 305.32,83.89 305.84,83.91 306.36,83.93 306.88,83.96 307.41,83.98 307.93,84.01 308.45,84.03 308.97,84.05 309.5,84.08 310.02,84.1 310.54,84.12 311.06,84.15 311.58,84.17 312.11,84.19 312.63,84.22 313.15,84.24 313.67,84.26 314.2,84.29 314.72,84.31 315.24,84.33 315.76,84.36 316.29,84.38 316.81,84.4 317.33,84.43 317.85,84.45 318.37,84.47" stroke="#000" stroke-width="1.8"/>
</g>
<rect x="57.55" y="16" width="261.15" height="192" fill="none" stroke="#000" stroke-width="1.7"/>
<path d="M57.55 208v-4.5M57.55 16v4.5M83.66 208v-2.5M83.66 16v2.5M109.78 208v-4.5M109.78 16v4.5M135.89 208v-2.5M135.89 16v2.5M162.01 208v-4.5M162.01 16v4.5M188.12 208v-2.5M188.12 16v2.5M214.24 208v-4.5M214.24 16v4.5M240.36 208v-2.5M240.36 16v2.5M266.47 208v-4.5M266.47 16v4.5M292.58 208v-2.5M292.58 16v2.5M318.7 208v-4.5M318.7 16v4.5M57.55 208h4.5M318.7 208h-4.5M57.55 188.8h2.5M318.7 188.8h-2.5M57.55 169.6h4.5M318.7 169.6h-4.5M57.55 150.4h2.5M318.7 150.4h-2.5M57.55 131.2h4.5M318.7 131.2h-4.5M57.55 112h2.5M318.7 112h-2.5M57.55 92.8h4.5M318.7 92.8h-4.5M57.55 73.6h2.5M318.7 73.6h-2.5M57.55 54.4h4.5M318.7 54.4h-4.5M57.55 35.2h2.5M318.7 35.2h-2.5M57.55 16h4.5M318.7 16h-4.5" stroke="#000" stroke-width="1.5" fill="none"/>
<g font-family="Liberation Sans, sans-serif" font-size="17" fill="#000">
<text x="53" y="213.3" text-anchor="end">0.0</text>
<text x="53" y="174.9" text-anchor="end">0.2</text>
<text x="53" y="136.5" text-anchor="end">0.4</text>
<text x="53" y="98.1" text-anchor="end">0.6</text>
<text x="53" y="59.7" text-anchor="end">0.8</text>
<text x="53" y="21.3" text-anchor="end">1.0</text>
<text x="57.55" y="226" text-anchor="middle">180</text>
<text x="109.78" y="226" text-anchor="middle">190</text>
<text x="162.01" y="226" text-anchor="middle">200</text>
<text x="214.24" y="226" text-anchor="middle">210</text>
<text x="266.47" y="226" text-anchor="middle">220</text>
<text x="318.7" y="226" text-anchor="middle">230</text>
<text x="188.8" y="245.6" text-anchor="middle" font-size="17.4">Frequency(THz)</text>
<text transform="translate(21.2 113.75) rotate(-90)" text-anchor="middle" font-size="17.3">Transmission</text>
</g>
<text x="0.5" y="13.5" font-family="Liberation Serif, serif" font-size="18">(a)</text>
<g fill="none" stroke-width="2">
<path d="M226.7 114h9.5" stroke="#0000c0"/>
<path d="M226.7 132.6h11M242.3 132.6h3" stroke="#22e622"/>
<path d="M227 151h25.5" stroke="#000"/>
<path d="M226.5 169.6h24" stroke="#d00000" stroke-dasharray="1.8 1.9"/>
</g>
<g font-family="Liberation Sans, sans-serif" font-size="11" fill="#000">
<text x="255.8" y="117.8">APBs 10<tspan font-size="8.5" dx="0.3" dy="-5.1">-3</tspan></text>
<text x="255.8" y="136.3">APBs 10<tspan font-size="8.5" dx="0.3" dy="-5.1">-2</tspan></text>
<text x="255.8" y="154.8">FAPBs 10<tspan font-size="8.5" dx="0.3" dy="-5.1">-3</tspan></text>
<text x="255.8" y="173.2">FAPBs 10<tspan font-size="8.5" dx="0.3" dy="-5.1">-2</tspan></text>
</g>
<path d="M438.6 208.11L490.69 194.19M490.69 194.19L542.77 177.86M542.77 177.86L594.87 174.18M594.87 174.18L646.95 174.02" fill="none" stroke="#000" stroke-width="2" stroke-dasharray="3 8" stroke-dashoffset="4.5"/>
<path d="M438.6 204.59 L490.69 174.02 L542.77 76.87 L594.87 35.58 L646.95 29.9" fill="none" stroke="#f00" stroke-width="2"/>
<path d="M438.6 202.71L443.4 210.81L433.8 210.81ZM490.69 188.79L495.49 196.89L485.88 196.89ZM542.77 172.46L547.57 180.56L537.98 180.56ZM594.87 168.78L599.66 176.88L590.07 176.88ZM646.95 168.62L651.75 176.72L642.15 176.72Z" fill="#000"/>
<circle cx="438.6" cy="204.59" r="3.9" fill="#f00"/>
<circle cx="490.69" cy="174.02" r="3.9" fill="#f00"/>
<circle cx="542.77" cy="76.87" r="3.9" fill="#f00"/>
<circle cx="594.87" cy="35.58" r="3.9" fill="#f00"/>
<circle cx="646.95" cy="29.9" r="3.9" fill="#f00"/>
<rect x="412.55" y="19.9" width="260.45" height="192.05" fill="none" stroke="#000" stroke-width="1.7"/>
<path d="M438.6 211.95v-4.5M438.6 19.9v4.5M464.64 211.95v-2.5M464.64 19.9v2.5M490.69 211.95v-4.5M490.69 19.9v4.5M516.73 211.95v-2.5M516.73 19.9v2.5M542.77 211.95v-4.5M542.77 19.9v4.5M568.82 211.95v-2.5M568.82 19.9v2.5M594.87 211.95v-4.5M594.87 19.9v4.5M620.91 211.95v-2.5M620.91 19.9v2.5M646.95 211.95v-4.5M646.95 19.9v4.5M412.55 211.95h4.5M673 211.95h-4.5M412.55 195.95h2.5M673 195.95h-2.5M412.55 179.94h4.5M673 179.94h-4.5M412.55 163.94h2.5M673 163.94h-2.5M412.55 147.93h4.5M673 147.93h-4.5M412.55 131.93h2.5M673 131.93h-2.5M412.55 115.92h4.5M673 115.92h-4.5M412.55 99.92h2.5M673 99.92h-2.5M412.55 83.92h4.5M673 83.92h-4.5M412.55 67.91h2.5M673 67.91h-2.5M412.55 51.91h4.5M673 51.91h-4.5M412.55 35.9h2.5M673 35.9h-2.5M412.55 19.9h4.5M673 19.9h-4.5" stroke="#000" stroke-width="1.5" fill="none"/>
<g font-family="Liberation Sans, sans-serif" font-size="17" fill="#000">
<text x="407.6" y="216.85" text-anchor="end">0</text>
<text x="407.6" y="184.84" text-anchor="end">200</text>
<text x="407.6" y="152.83" text-anchor="end">400</text>
<text x="407.6" y="120.83" text-anchor="end">600</text>
<text x="407.6" y="88.82" text-anchor="end">800</text>
<text x="407.6" y="56.81" text-anchor="end">1000</text>
<text x="407.6" y="24.8" text-anchor="end">1200</text>
<text x="438.6" y="229.6" text-anchor="middle">1</text>
<text x="490.69" y="229.6" text-anchor="middle">2</text>
<text x="542.77" y="229.6" text-anchor="middle">3</text>
<text x="594.87" y="229.6" text-anchor="middle">4</text>
<text x="646.95" y="229.6" text-anchor="middle">5</text>
<text transform="translate(365.5 111) rotate(-90)" text-anchor="middle">Q Factor</text>
<text x="520.6" y="247.6" font-size="19">-lg</text>
<text x="542.9" y="247.6" font-size="20">(</text>
<text x="550" y="247.6" font-family="Liberation Serif, serif" font-style="italic" font-size="21">n</text>
<text x="558.6" y="247.6" font-family="Liberation Serif, serif" font-style="italic" font-size="20">″</text>
<text x="568.8" y="247.6" font-size="20">)</text>
</g>
<text x="343.5" y="14" font-family="Liberation Serif, serif" font-size="18">(b)</text>
<path d="M433 42.6h36" fill="none" stroke="#000" stroke-width="2" stroke-dasharray="2.5 8.5"/>
<path d="M450.75 37.53L455.25 45.13L446.25 45.13Z" fill="#000"/>
<path d="M433.2 61.6h35.5" fill="none" stroke="#f00" stroke-width="2"/>
<circle cx="450.8" cy="61.6" r="3.8" fill="#f00"/>
<g font-family="Liberation Sans, sans-serif" font-size="15" fill="#000">
<text x="472.3" y="47.4" font-size="15.5">APBs</text>
<text x="472.3" y="66.9" font-size="15.5">FAPBs</text>
</g>
</svg></body></html>
